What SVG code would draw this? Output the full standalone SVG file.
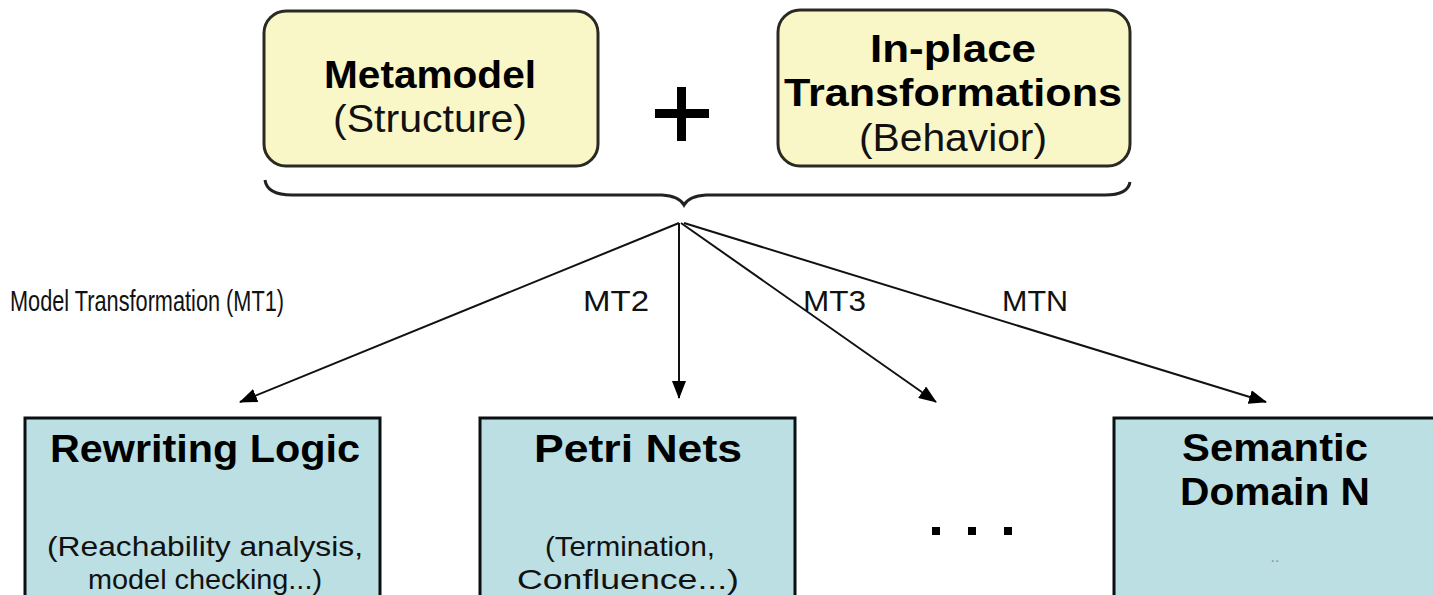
<svg xmlns="http://www.w3.org/2000/svg" width="1433" height="595" viewBox="0 0 1433 595">
<style>
.top{fill:#f9f6c8;stroke:#2a2a22;stroke-width:3}
.bot{fill:#bbdfe2;stroke:#0a0f12;stroke-width:3}
.b{font-family:"Liberation Sans",Arial,sans-serif;font-weight:bold;font-size:38px;fill:#000;text-anchor:middle}
.r{font-family:"Liberation Sans",Arial,sans-serif;font-size:38px;fill:#111;text-anchor:middle}
.hb{font-family:"Liberation Sans",Arial,sans-serif;font-weight:bold;font-size:38px;fill:#000;text-anchor:middle}
.s{font-family:"Liberation Sans",Arial,sans-serif;font-size:28px;fill:#111;text-anchor:middle}
.lab{font-family:"Liberation Sans",Arial,sans-serif;font-size:30px;fill:#111}
.conn{stroke:#111;stroke-width:2;fill:none;marker-end:url(#ah)}
</style>
<defs>
<marker id="ah" markerUnits="userSpaceOnUse" markerWidth="18" markerHeight="14" refX="17" refY="7" orient="auto">
<path d="M0,0 L18,7 L0,14 z" fill="#000"/>
</marker>
</defs>
<rect width="1433" height="595" fill="#fff"/>
<g id="metamodel">
<rect class="top" x="264" y="11" width="334" height="155" rx="22"/>
<text class="b" x="430" y="88" textLength="212" lengthAdjust="spacingAndGlyphs">Metamodel</text>
<text class="r" x="430" y="132" textLength="194" lengthAdjust="spacingAndGlyphs">(Structure)</text>
</g>
<g id="plus">
<rect x="655" y="109" width="54" height="9" fill="#000"/>
<rect x="677" y="87" width="9" height="54" fill="#000"/>
</g>
<g id="inplace">
<rect class="top" x="778" y="10" width="352" height="156" rx="22"/>
<text class="b" x="953" y="62" textLength="166" lengthAdjust="spacingAndGlyphs">In-place</text>
<text class="b" x="953" y="106" textLength="338" lengthAdjust="spacingAndGlyphs">Transformations</text>
<text class="r" x="953" y="151" textLength="188" lengthAdjust="spacingAndGlyphs">(Behavior)</text>
</g>
<g id="brace">
<path d="M265,180 Q267,195 292,195 L662,195 Q679,196 684,205 Q689,196 706,195 L1105,195 Q1128,195 1130,182" fill="none" stroke="#222" stroke-width="3"/>
</g>
<g id="connectors">
<line class="conn" x1="679" y1="223" x2="240" y2="402"/>
<line class="conn" x1="679" y1="223" x2="679" y2="398"/>
<line class="conn" x1="681" y1="223" x2="936" y2="402"/>
<line class="conn" x1="684" y1="223" x2="1266" y2="402"/>
<text class="lab" x="10" y="311" textLength="274" lengthAdjust="spacingAndGlyphs">Model Transformation (MT1)</text>
<text class="lab" x="583" y="311" textLength="66" lengthAdjust="spacingAndGlyphs">MT2</text>
<text class="lab" x="803" y="311" textLength="63" lengthAdjust="spacingAndGlyphs">MT3</text>
<text class="lab" x="1002" y="311" textLength="66" lengthAdjust="spacingAndGlyphs">MTN</text>
</g>
<g id="rewriting">
<rect class="bot" x="25" y="418" width="355" height="200"/>
<text class="hb" x="205" y="462" textLength="310" lengthAdjust="spacingAndGlyphs">Rewriting Logic</text>
<text class="s" x="205" y="556" textLength="316" lengthAdjust="spacingAndGlyphs">(Reachability analysis,</text>
<text class="s" x="205" y="589" textLength="234" lengthAdjust="spacingAndGlyphs">model checking...)</text>
</g>
<g id="petri">
<rect class="bot" x="480" y="418" width="315" height="200"/>
<text class="hb" x="638" y="462" textLength="208" lengthAdjust="spacingAndGlyphs">Petri Nets</text>
<text class="s" x="630" y="556" textLength="170" lengthAdjust="spacingAndGlyphs">(Termination,</text>
<text class="s" x="628" y="589" textLength="222" lengthAdjust="spacingAndGlyphs">Confluence...)</text>
</g>
<g id="dots">
<rect x="932" y="527" width="8" height="8" fill="#000"/>
<rect x="968" y="527" width="8" height="8" fill="#000"/>
<rect x="1004" y="527" width="8" height="8" fill="#000"/>
</g>
<g id="semantic">
<rect class="bot" x="1114" y="418" width="340" height="200"/>
<text class="hb" x="1275" y="461" textLength="186" lengthAdjust="spacingAndGlyphs">Semantic</text>
<text class="hb" x="1275" y="505" textLength="190" lengthAdjust="spacingAndGlyphs">Domain N</text>
<text x="1275" y="562" font-family="Liberation Sans,Arial,sans-serif" font-size="16" fill="#8a9a9c" text-anchor="middle">..</text>
</g>
</svg>
